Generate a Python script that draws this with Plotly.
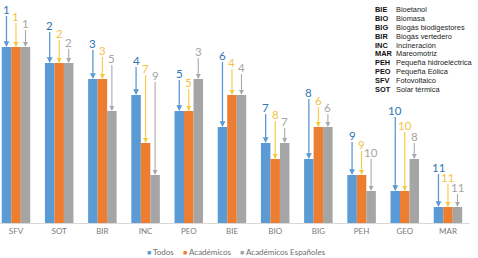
import plotly.graph_objects as go

# ---------------- data ----------------
categories = ["SFV", "SOT", "BIR", "INC", "PEO", "BIE", "BIO", "BIG", "PEH", "GEO", "MAR"]
series_names = ["Todos", "Académicos", "Académicos Españoles"]

# bar heights (score; taller = better rank)
todos_values = [11, 10, 9, 8, 7, 6, 5, 4, 3, 2, 1]
acad_values = [11, 10, 9, 5, 7, 8, 4, 6, 3, 2, 1]
esp_values = [11, 10, 7, 3, 9, 8, 5, 6, 2, 4, 1]

# rank labels shown above the bars
todos_ranks = [1, 2, 3, 4, 5, 6, 7, 8, 9, 10, 11]
acad_ranks = [1, 2, 3, 7, 5, 4, 8, 6, 9, 10, 11]
esp_ranks = [1, 2, 5, 9, 3, 4, 7, 6, 10, 8, 11]

glossary_codes = ["BIE", "BIO", "BIG", "BIR", "INC", "MAR", "PEH", "PEO", "SFV", "SOT"]
glossary_names = ["Bioetanol", "Biomasa", "Biogás biodigestores", "Biogás vertedero",
                  "Incineración", "Mareomotriz", "Pequeña hidroeléctrica",
                  "Pequeña Eólica", "Fotovoltaico", "Solar térmica"]

# ---------------- styles ----------------
bar_colors = ["#5b9bd5", "#ed7d31", "#a5a5a5"]
label_colors = ["#2e75b6", "#f6c244", "#a5a5a5"]
arrow_colors = ["#5b9bd5", "#f8c93c", "#a9a9b4"]
# vertical pixel offset of each rank label above its bar top
todos_offsets = [-38, -38, -36, -35, -38, -72, -36, -67, -40, -81, -40]
acad_offsets = [-31, -30, -29, -75, -29, -33, -45, -27, -31, -66, -30]
esp_offsets = [-24, -21, -53, -100, -28, -28, -22, -20, -39, -23, -20]

W, H = 478, 258
ML, MR, MT, MB = 0, 8, 7, 35
PW, PH = W - ML - MR, H - MT - MB
BARGAP = 0.34
YMAX = 13.5

all_values = [todos_values, acad_values, esp_values]
all_ranks = [todos_ranks, acad_ranks, esp_ranks]
all_offsets = [todos_offsets, acad_offsets, esp_offsets]

fig = go.Figure()
for name, vals, col in zip(series_names, all_values, bar_colors):
    fig.add_trace(go.Bar(x=categories, y=vals, name=name, marker_color=col,
                         marker_line_width=0, showlegend=False, hoverinfo="skip"))

annotations = []
slot = (1 - BARGAP) / 3
for s in range(3):
    for i, cat in enumerate(categories):
        annotations.append(dict(
            x=i + (s - 1) * slot, y=all_values[s][i], xref="x", yref="y",
            text=str(all_ranks[s][i]), showarrow=True, ax=0, ay=all_offsets[s][i],
            arrowhead=2, arrowsize=0.9, arrowwidth=1.3 if s == 0 else 1.1,
            arrowcolor=arrow_colors[s], standoff=0, startstandoff=0,
            font=dict(family="Lato, Open Sans, sans-serif", size=11.5,
                      color=label_colors[s]),
            borderpad=0,
        ))


def px(xp):
    return (xp - ML) / PW


def py(yp):
    return (H - MB - yp) / PH


# glossary top right
for k, (code, nm) in enumerate(zip(glossary_codes, glossary_names)):
    yy = 10 + k * 8.8
    annotations.append(dict(x=px(373), y=py(yy), xref="paper", yref="paper",
                            text="<b>" + code + "</b>", showarrow=False,
                            xanchor="left", yanchor="middle",
                            font=dict(family="Liberation Sans, Arial", size=7.4, color="#111")))
    annotations.append(dict(x=px(394), y=py(yy), xref="paper", yref="paper",
                            text=nm, showarrow=False, xanchor="left", yanchor="middle",
                            font=dict(family="Liberation Sans, Arial", size=7.4, color="#222")))

# bottom legend
legend_x = [145, 181, 238]
for name, col, lx in zip(series_names, bar_colors, legend_x):
    annotations.append(dict(x=px(lx), y=py(252), xref="paper", yref="paper",
                            text="<span style='color:%s;font-size:7px'>■</span> %s" % (col, name),
                            showarrow=False, xanchor="left", yanchor="middle",
                            font=dict(family="Lato, Open Sans, sans-serif", size=8, color="#6e6e6e")))

fig.update_layout(
    width=W, height=H,
    margin=dict(l=ML, r=MR, t=MT, b=MB),
    barmode="group", bargap=BARGAP, bargroupgap=0,
    plot_bgcolor="white", paper_bgcolor="white",
    annotations=annotations,
    xaxis=dict(range=[-0.37, 10.51], showline=True, linecolor="#d9d9d9", linewidth=1,
               ticks="", showgrid=False, zeroline=False, fixedrange=True,
               tickfont=dict(family="Lato, Open Sans, sans-serif", size=8, color="#7a7a7a")),
    yaxis=dict(range=[0, YMAX], visible=False, showgrid=False, fixedrange=True),
)

fig.write_html("out.html", config={"displayModeBar": False},
               post_script="document.body.style.margin='0';")
